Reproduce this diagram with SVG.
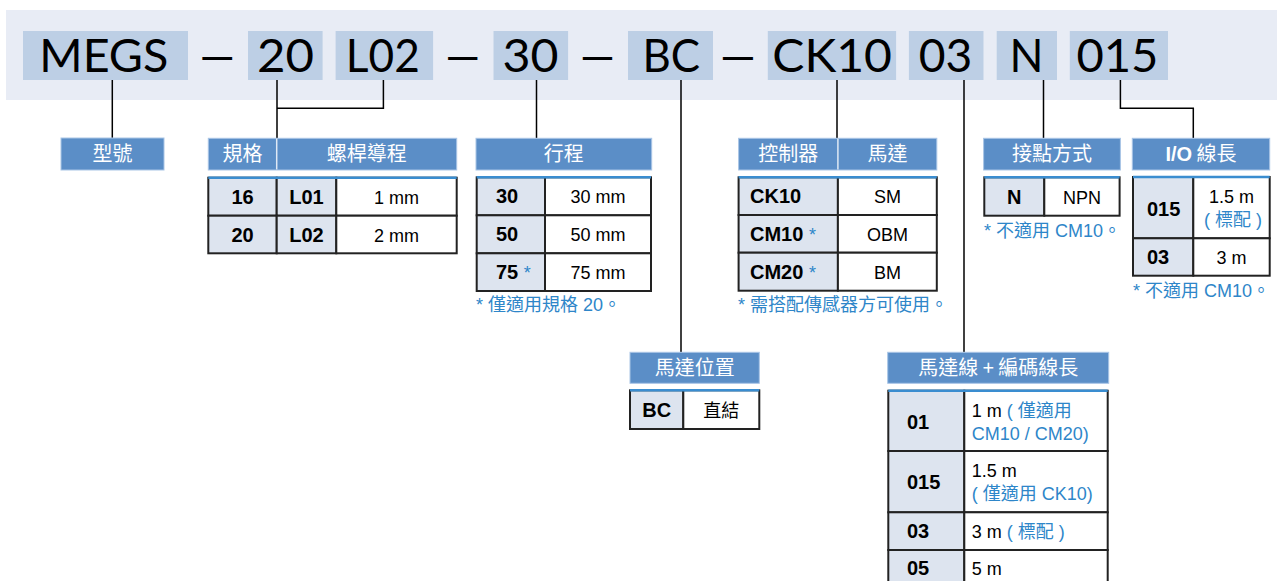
<svg xmlns="http://www.w3.org/2000/svg" width="1277" height="581" viewBox="0 0 1277 581">
<style>
.band{fill:#e8ecf5}
.code{fill:#bdcfe5}
.ct{font-family:Lato,"DejaVu Sans",sans-serif;font-size:46px;fill:#000}
.hd{fill:#5b8ec7;stroke:#a9c5e6;stroke-width:1}
.hdiv{stroke:#dfe9f5;stroke-width:1.5}
.ht{font-family:"Noto Sans CJK TC","Liberation Sans",sans-serif;font-size:20px;fill:#fff;text-anchor:middle}
.k{fill:#dde4ef;stroke:#222;stroke-width:2}
.v{fill:#fff;stroke:#222;stroke-width:2}
.tl{stroke:#3a8dd0;stroke-width:2.5}
.kt{font-family:"Liberation Sans",Arial,sans-serif;font-weight:bold;font-size:20px;fill:#000}
.vt{font-family:"Liberation Sans","Noto Sans CJK TC",sans-serif;font-size:18px;fill:#000}
.mid{text-anchor:middle}
.b{fill:#2e86c9}
.note{font-family:"Liberation Sans","Noto Sans CJK TC",sans-serif;font-size:18px;fill:#2e86c9}
.ln{stroke:#000;stroke-width:1.5;fill:none}
</style>
<g id="model-code">
<rect class="band" x="6" y="10" width="1271" height="90"/>
<rect class="code" x="23" y="31" width="165" height="49"/>
<rect class="code" x="248" y="31" width="74.6" height="49"/>
<rect class="code" x="335.6" y="31" width="97.5" height="49"/>
<rect class="code" x="493.5" y="31" width="74.6" height="49"/>
<rect class="code" x="628" y="31" width="85" height="49"/>
<rect class="code" x="767.8" y="31" width="128.3" height="49"/>
<rect class="code" x="908.9" y="31" width="74.6" height="49"/>
<rect class="code" x="996.7" y="31" width="60.3" height="49"/>
<rect class="code" x="1069.8" y="31" width="98.2" height="49"/>
<text class="ct" x="39.3" y="72" textLength="129" lengthAdjust="spacingAndGlyphs">MEGS</text>
<text class="ct" x="199.4" y="72" textLength="35.5" lengthAdjust="spacingAndGlyphs">—</text>
<text class="ct" x="257" y="72" textLength="57" lengthAdjust="spacingAndGlyphs">20</text>
<text class="ct" x="345.8" y="72" textLength="74" lengthAdjust="spacingAndGlyphs">L02</text>
<text class="ct" x="445.3" y="72" textLength="35" lengthAdjust="spacingAndGlyphs">—</text>
<text class="ct" x="502.4" y="72" textLength="56" lengthAdjust="spacingAndGlyphs">30</text>
<text class="ct" x="580" y="72" textLength="35" lengthAdjust="spacingAndGlyphs">—</text>
<text class="ct" x="642.4" y="72" textLength="57.6" lengthAdjust="spacingAndGlyphs">BC</text>
<text class="ct" x="719.9" y="72" textLength="35.9" lengthAdjust="spacingAndGlyphs">—</text>
<text class="ct" x="772.3" y="72" textLength="119.7" lengthAdjust="spacingAndGlyphs">CK10</text>
<text class="ct" x="918.8" y="72" textLength="53.6" lengthAdjust="spacingAndGlyphs">03</text>
<text class="ct" x="1009.5" y="72" textLength="34" lengthAdjust="spacingAndGlyphs">N</text>
<text class="ct" x="1076.4" y="72" textLength="82" lengthAdjust="spacingAndGlyphs">015</text>
</g>
<g id="connectors">
<path class="ln" d="M112.3 80V138"/>
<path class="ln" d="M383.4 80V108.3H276.7M277 80V138.3"/>
<path class="ln" d="M536.5 80V138.3"/>
<path class="ln" d="M681 80V352.3"/>
<path class="ln" d="M837 80V138.3"/>
<path class="ln" d="M964 80V352.3"/>
<path class="ln" d="M1043.5 80V138.3"/>
<path class="ln" d="M1120.4 80V108.3H1193.3V138.3"/>
</g>
<g id="model">
<rect class="hd" x="61" y="138" width="103" height="32"/>
<text class="ht" x="112.5" y="161">型號</text>
</g>
<g id="size-lead">
<rect class="hd" x="208.3" y="138.3" width="248.4" height="31.7"/>
<line class="hdiv" x1="276.7" y1="138.8" x2="276.7" y2="169.5"/>
<text class="ht" x="242.5" y="161">規格</text>
<text class="ht" x="366.7" y="161">螺桿導程</text>
<rect class="k" x="208.3" y="177.7" width="68.4" height="38"/>
<rect class="k" x="276.7" y="177.7" width="59.6" height="38"/>
<rect class="v" x="336.3" y="177.7" width="120.4" height="38"/>
<rect class="k" x="208.3" y="215.7" width="68.4" height="37.6"/>
<rect class="k" x="276.7" y="215.7" width="59.6" height="37.6"/>
<rect class="v" x="336.3" y="215.7" width="120.4" height="37.6"/>
<line class="tl" x1="208.3" y1="177.7" x2="456.7" y2="177.7"/>
<text class="kt mid" x="242.5" y="203.5">16</text>
<text class="kt mid" x="306.5" y="203.5">L01</text>
<text class="vt mid" x="396.5" y="203.5">1 mm</text>
<text class="kt mid" x="242.5" y="241.5">20</text>
<text class="kt mid" x="306.5" y="241.5">L02</text>
<text class="vt mid" x="396.5" y="241.5">2 mm</text>
</g>
<g id="stroke">
<rect class="hd" x="476" y="138.3" width="175.7" height="31.7"/>
<text class="ht" x="563.8" y="161">行程</text>
<rect class="k" x="476.7" y="177.3" width="68.3" height="38"/>
<rect class="v" x="545" y="177.3" width="106" height="38"/>
<rect class="k" x="476.7" y="215.3" width="68.3" height="38"/>
<rect class="v" x="545" y="215.3" width="106" height="38"/>
<rect class="k" x="476.7" y="253.3" width="68.3" height="37.7"/>
<rect class="v" x="545" y="253.3" width="106" height="37.7"/>
<line class="tl" x1="476.7" y1="177.3" x2="651" y2="177.3"/>
<text class="kt" x="496" y="203.3">30</text>
<text class="vt mid" x="598" y="203.3">30 mm</text>
<text class="kt" x="496" y="241.3">50</text>
<text class="vt mid" x="598" y="241.3">50 mm</text>
<text class="kt" x="496" y="279.2">75 <tspan class="b" font-weight="normal" font-size="18">*</tspan></text>
<text class="vt mid" x="598" y="279.2">75 mm</text>
<text class="note" x="476" y="311">* 僅適用規格 20。</text>
</g>
<g id="controller-motor">
<rect class="hd" x="738.6" y="138.3" width="198.2" height="31.7"/>
<line class="hdiv" x1="837.9" y1="138.8" x2="837.9" y2="169.5"/>
<text class="ht" x="788.3" y="161">控制器</text>
<text class="ht" x="887.4" y="161">馬達</text>
<rect class="k" x="738.6" y="177.3" width="99.3" height="37.7"/>
<rect class="v" x="837.9" y="177.3" width="98.9" height="37.7"/>
<rect class="k" x="738.6" y="215" width="99.3" height="37.7"/>
<rect class="v" x="837.9" y="215" width="98.9" height="37.7"/>
<rect class="k" x="738.6" y="252.7" width="99.3" height="38"/>
<rect class="v" x="837.9" y="252.7" width="98.9" height="38"/>
<line class="tl" x1="738.6" y1="177.3" x2="936.8" y2="177.3"/>
<text class="kt" x="750" y="203.2">CK10</text>
<text class="vt mid" x="887.4" y="203.2">SM</text>
<text class="kt" x="750" y="240.9">CM10 <tspan class="b" font-weight="normal" font-size="18">*</tspan></text>
<text class="vt mid" x="887.4" y="240.9">OBM</text>
<text class="kt" x="750" y="278.7">CM20 <tspan class="b" font-weight="normal" font-size="18">*</tspan></text>
<text class="vt mid" x="887.4" y="278.7">BM</text>
<text class="note" x="738" y="311">* 需搭配傳感器方可使用。</text>
</g>
<g id="contact">
<rect class="hd" x="983.6" y="138.3" width="136.8" height="31.7"/>
<text class="ht" x="1052" y="161">接點方式</text>
<rect class="k" x="984.3" y="177.3" width="60" height="38.4"/>
<rect class="v" x="1044.3" y="177.3" width="75.3" height="38.4"/>
<line class="tl" x1="984.3" y1="177.3" x2="1119.6" y2="177.3"/>
<text class="kt mid" x="1014.3" y="203.5">N</text>
<text class="vt mid" x="1082" y="203.5">NPN</text>
<text class="note" x="984" y="237">* 不適用 CM10。</text>
</g>
<g id="io-cable">
<rect class="hd" x="1132.3" y="138.3" width="137.4" height="31.7"/>
<text class="ht" x="1201" y="161"><tspan font-family="Liberation Sans,Arial,sans-serif" font-weight="bold">I/O</tspan> 線長</text>
<rect class="k" x="1133" y="177" width="60.3" height="61.3"/>
<rect class="v" x="1193.3" y="177" width="76.4" height="61.3"/>
<rect class="k" x="1133" y="238.3" width="60.3" height="37.4"/>
<rect class="v" x="1193.3" y="238.3" width="76.4" height="37.4"/>
<line class="tl" x1="1133" y1="177" x2="1269.7" y2="177"/>
<text class="kt" x="1147" y="215.5">015</text>
<text class="vt mid" x="1231.5" y="203">1.5 m</text>
<text class="vt mid b" x="1233" y="226">( 標配 )</text>
<text class="kt" x="1147" y="264">03</text>
<text class="vt mid" x="1231.5" y="264">3 m</text>
<text class="note" x="1133" y="297">* 不適用 CM10。</text>
</g>
<g id="motor-position">
<rect class="hd" x="630" y="352.3" width="129.3" height="31"/>
<text class="ht" x="694.7" y="375">馬達位置</text>
<rect class="k" x="630" y="390.3" width="53.3" height="38.7"/>
<rect class="v" x="683.3" y="390.3" width="76" height="38.7"/>
<line class="tl" x1="630" y1="390.3" x2="759.3" y2="390.3"/>
<text class="kt mid" x="656.7" y="417">BC</text>
<text class="vt mid" x="721.3" y="417">直結</text>
</g>
<g id="motor-encoder-cable">
<rect class="hd" x="887.7" y="352.3" width="221" height="31"/>
<text class="ht" x="998.2" y="375">馬達線 + 編碼線長</text>
<rect class="k" x="888.3" y="390.7" width="76" height="60.3"/>
<rect class="v" x="964.3" y="390.7" width="143.4" height="60.3"/>
<rect class="k" x="888.3" y="451" width="76" height="61.3"/>
<rect class="v" x="964.3" y="451" width="143.4" height="61.3"/>
<rect class="k" x="888.3" y="512.3" width="76" height="37.7"/>
<rect class="v" x="964.3" y="512.3" width="143.4" height="37.7"/>
<rect class="k" x="888.3" y="550" width="76" height="38"/>
<rect class="v" x="964.3" y="550" width="143.4" height="38"/>
<line class="tl" x1="888.3" y1="390.7" x2="1107.7" y2="390.7"/>
<text class="kt" x="907" y="429">01</text>
<text class="vt" x="971.7" y="417.3">1 m <tspan class="b">( 僅適用</tspan></text>
<text class="vt b" x="971.7" y="439.5">CM10 / CM20)</text>
<text class="kt" x="907" y="488.5">015</text>
<text class="vt" x="971.7" y="477">1.5 m</text>
<text class="vt b" x="971.7" y="499.5">( 僅適用 CK10)</text>
<text class="kt" x="907" y="538">03</text>
<text class="vt" x="971.7" y="538">3 m <tspan class="b">( 標配 )</tspan></text>
<text class="kt" x="907" y="575">05</text>
<text class="vt" x="971.7" y="575">5 m</text>
</g>
</svg>
